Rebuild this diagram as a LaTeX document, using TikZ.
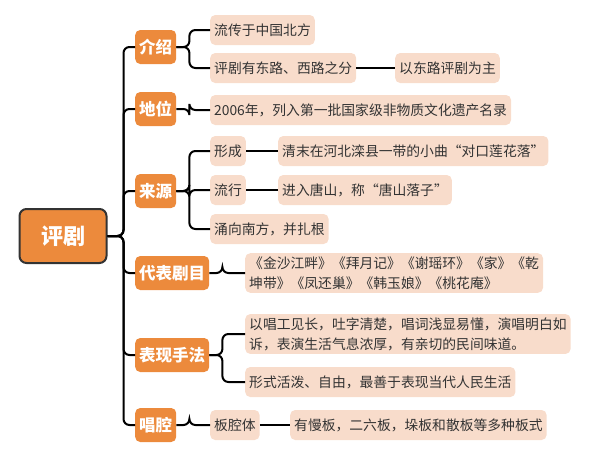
\documentclass[tikz,border=0pt]{standalone}
\usepackage{fontspec}
\setmainfont{Noto Sans CJK SC}
\definecolor{org}{HTML}{EC8A3C}
\definecolor{pch}{HTML}{F8DCCB}
\definecolor{txt}{HTML}{333333}
\begin{document}
\begin{tikzpicture}[x=1pt,y=-1pt,
 cat/.style={fill=org,rounded corners=5pt,text=white,font=\fontsize{16.5}{18}\selectfont\bfseries,inner xsep=4pt,minimum height=34pt},
 leaf/.style={fill=pch,rounded corners=5pt,text=txt,font=\fontsize{13.8}{20}\selectfont,inner xsep=4pt,minimum height=30pt,anchor=west},
 ln/.style={line width=2pt,black,rounded corners=6pt}]
\useasboundingbox (0,0) rectangle (608,456);
\node[fill=org,draw=black!80,line width=2pt,rounded corners=7pt,text=white,font=\fontsize{22}{24}\selectfont\bfseries,minimum width=87pt,minimum height=54pt] (root) at (63,236) {评剧};
\node[cat,anchor=west] (c1) at (135,47) {介绍};
\node[cat,anchor=west] (c2) at (135,109) {地位};
\node[cat,anchor=west] (c3) at (135,191) {来源};
\node[cat,anchor=west] (c4) at (135,273) {代表剧目};
\node[cat,anchor=west] (c5) at (135,355) {表现手法};
\node[cat,anchor=west] (c6) at (135,425) {唱腔};
\node[leaf] (l1) at (210,30) {流传于中国北方};
\node[leaf] (l2) at (210,68) {评剧有东路、西路之分};
\node[leaf] (l2a) at (395,68) {以东路评剧为主};
\node[leaf] (l3) at (210,110) {2006年，列入第一批国家级非物质文化遗产名录};
\node[leaf] (l4) at (210,151) {形成};
\node[leaf] (l4a) at (278,151) {清末在河北滦县一带的小曲“对口莲花落”};
\node[leaf] (l5) at (210,190) {流行};
\node[leaf] (l5a) at (278,190) {进入唐山，称“唐山落子”};
\node[leaf] (l6) at (210,229) {涌向南方，并扎根};
\node[leaf,align=left] (l7) at (245,273) {《金沙江畔》《拜月记》《谢瑶环》《家》《乾\\坤带》《凤还巢》《韩玉娘》《桃花庵》};
\node[leaf,align=left] (l8) at (245,334) {以唱工见长，吐字清楚，唱词浅显易懂，演唱明白如\\诉，表演生活气息浓厚，有亲切的民间味道。};
\node[leaf] (l9) at (245,382) {形式活泼、自由，最善于表现当代人民生活};
\node[leaf] (l10) at (210,425) {板腔体};
\node[leaf] (l10a) at (290,425) {有慢板，二六板，垛板和散板等多种板式};
\foreach \c in {c1,c2,c3,c4,c5,c6} \draw[ln] (root.east) -- ++(16,0) |- (\c.west);
\foreach \c/\l in {c1/l1,c1/l2,c2/l3,c3/l4,c3/l5,c3/l6,c4/l7,c5/l8,c5/l9,c6/l10}
  \draw[ln] (\c.east) -- ++(13,0) |- (\l.west);
\foreach \a/\b in {l2/l2a,l4/l4a,l5/l5a,l10/l10a} \draw[ln] (\a.east) -- (\b.west);
\end{tikzpicture}
\end{document}
